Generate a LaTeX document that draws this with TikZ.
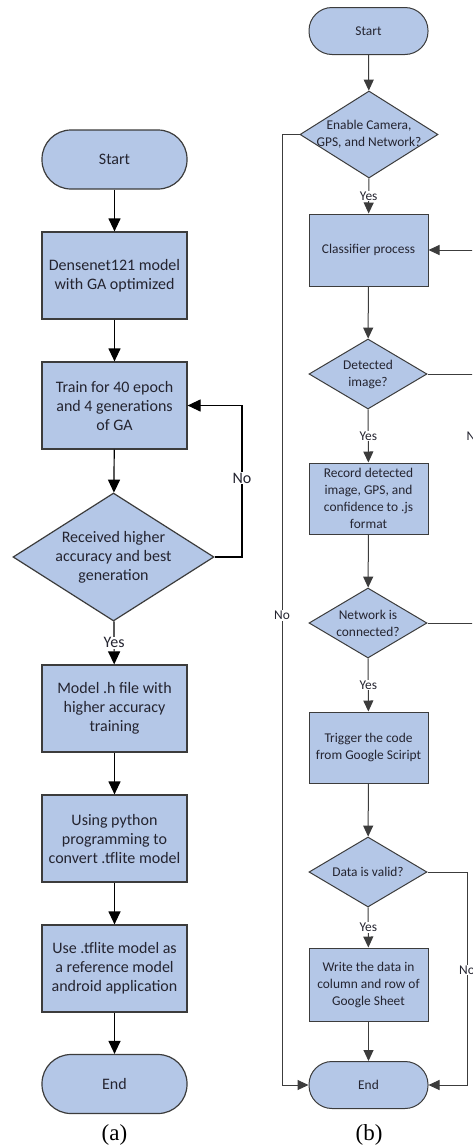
\documentclass[tikz,border=0pt]{standalone}
\usepackage{fontspec}
\setmainfont{Carlito}
\newfontfamily\capfont{Liberation Serif}
\usetikzlibrary{arrows.meta,shapes.geometric}
\definecolor{boxfill}{RGB}{180,199,231}
\definecolor{edge}{RGB}{60,60,60}
\definecolor{ink}{RGB}{36,36,48}
\newcommand{\lfont}{\fontsize{16}{19}\selectfont}
\newcommand{\rfont}{\fontsize{13.4}{17}\selectfont}
\tikzset{
  lshape/.style={draw=edge, fill=boxfill, line width=1.2pt, inner sep=0pt, text=ink, align=center, font=\lfont},
  rshape/.style={draw=edge, fill=boxfill, line width=1pt, inner sep=0pt, text=ink, align=center, font=\rfont},
  lterm/.style={lshape, rounded corners=29pt, minimum width=145pt, minimum height=59pt},
  lbox/.style={lshape, minimum width=145pt, minimum height=87pt},
  ldia/.style={lshape, diamond, minimum width=201pt, minimum height=128pt},
  rterm/.style={rshape, rounded corners=23pt, minimum width=119pt, minimum height=47pt},
  rbox/.style={rshape, minimum width=119pt, minimum height=72pt},
  rdia/.style={rshape, diamond, minimum width=118pt, minimum height=70pt},
  arrL/.style={draw=black, line width=1.2pt, -{Triangle[length=13pt,width=12pt]}},
  arrR/.style={draw=edge, line width=1pt, -{Triangle[length=11pt,width=10pt]}},
  lineR/.style={draw=edge, line width=1pt},
  labL/.style={fill=white, inner sep=1pt, text=ink, font=\lfont},
  labR/.style={fill=white, inner sep=1pt, text=ink, font=\rfont},
  captext/.style={font=\capfont\fontsize{23}{26}\selectfont, text=black}
}
\begin{document}
\begin{tikzpicture}[x=1pt,y=-1pt]
\useasboundingbox (0,0) rectangle (472,1146);
\clip (0,0) rectangle (472,1146);
\fill[white] (0,0) rectangle (472,1146);
% ---------- (a) ----------
\node[lterm] (ls) at (114.5,159.5) {Start};
\node[lbox] (lb1) at (114.5,275.5) {Densenet121 model\\with GA optimized};
\node[lbox] (lb2) at (114.5,405.5) {Train for 40 epoch\\and 4 generations\\of GA};
\node[ldia, label={[text=ink,align=center,font=\lfont]center:{Received higher\\accuracy and best\\generation}}] (ld) at (113.5,557) {};
\node[lbox] (lb3) at (114.5,708.5) {Model .h file with\\higher accuracy\\training};
\node[lbox] (lb4) at (114.5,838.5) {Using python\\programming to\\convert .tflite model};
\node[lbox] (lb5) at (114.5,968.5) {Use .tflite model as\\a reference model\\android application};
\node[lterm] (le) at (114.5,1084) {End};
\node[captext] (ca) at (114.5,1135) {(a)};
\coordinate (lx) at (242,557);
\draw[arrL] (ls) -- (lb1);
\draw[arrL] (lb1) -- (lb2);
\draw[arrL] (lb2) -- (ld);
\draw[arrL] (ld.east) -- (lx) |- node[labL,pos=0.26]{No} (lb2.east);
\draw[arrL] (ld) -- node[labL]{Yes} (lb3);
\draw[arrL] (lb3) -- (lb4);
\draw[arrL] (lb4) -- (lb5);
\draw[arrL] (lb5) -- (le);
% ---------- (b) ----------
\node[rterm] (rs) at (368.5,31) {Start};
\node[rshape, diamond, minimum width=138pt, minimum height=87pt, label={[text=ink,align=center,font=\rfont]center:{Enable Camera,\\GPS, and Network?}}] (rd1) at (369,134.5) {};
\node[rbox] (rc) at (368.5,250) {Classifier process};
\node[rdia, label={[text=ink,align=center,font=\rfont]center:{Detected\\image?}}] (rd2) at (368,374) {};
\node[rbox, minimum height=71pt] (rr) at (368.5,498.5) {Record detected\\image, GPS, and\\confidence to .js\\format};
\node[rdia, label={[text=ink,align=center,font=\rfont]center:{Network is\\connected?}}] (rd3) at (368,623) {};
\node[rbox, minimum height=71pt] (rt) at (368.5,747.5) {Trigger the code\\from Google Sciript};
\node[rdia, label={[text=ink,align=center,font=\rfont]center:{Data is valid?}}] (rd4) at (368,872) {};
\node[rbox, minimum height=73pt] (rw) at (368.5,984.5) {Write the data in\\column and row of\\Google Sheet};
\node[rterm] (re) at (368.5,1085) {End};
\node[captext] (cb) at (369,1135) {(b)};
\coordinate (rx1) at (282,134.5);
\coordinate (nA) at (474.5,250);
\coordinate (nB) at (492,250);
\coordinate (rx4) at (467,872);
\draw[arrR] (rs) -- (rd1);
\draw[arrR] (rd1) -- node[labR]{Yes} (rc);
\draw[arrR] (rc) -- (rd2);
\draw[arrR] (rd2) -- node[labR]{Yes} (rr);
\draw[arrR] (rr) -- (rd3);
\draw[arrR] (rd3) -- node[labR]{Yes} (rt);
\draw[arrR] (rt) -- (rd4);
\draw[arrR] (rd4) -- node[labR]{Yes} (rw);
\draw[arrR] (rw) -- (re);
\draw[arrR] (rd1.west) -- (rx1) |- node[labR,pos=0.253]{No} (re.west);
\draw[lineR] (rd2.east) -| (nB) -- (nA);
\draw[arrR] (rd3.east) -| node[labR,pos=0.75]{No} (nA) -- (rc.east);
\draw[arrR] (rd4.east) -- (rx4) |- node[labR,pos=0.23]{No} (re.east);
\end{tikzpicture}
\end{document}
